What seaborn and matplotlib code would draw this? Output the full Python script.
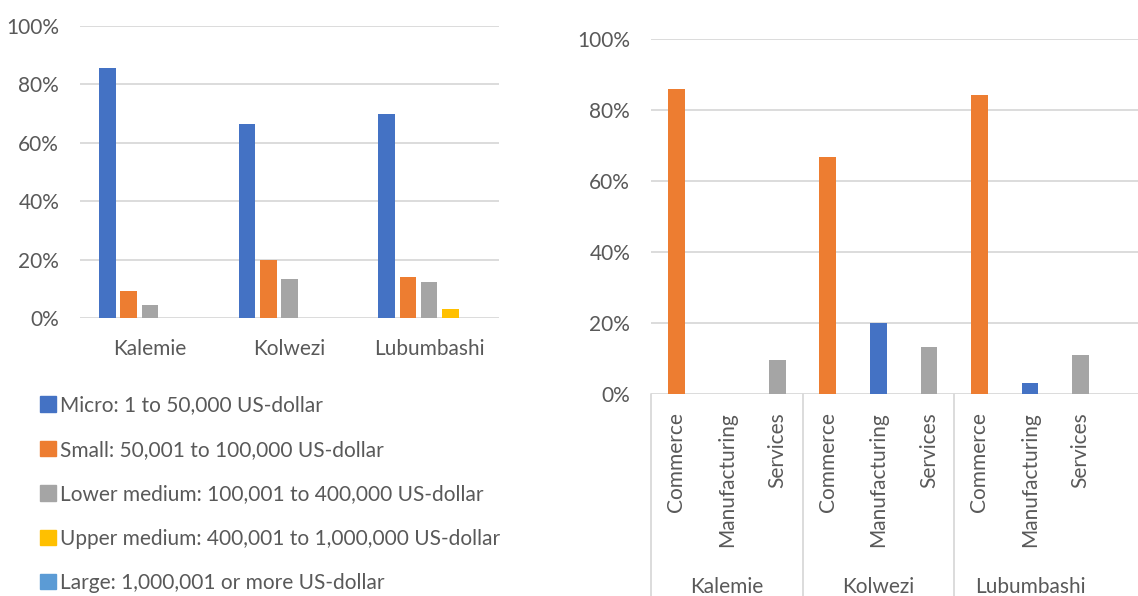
import matplotlib
matplotlib.use("Agg")
import matplotlib.pyplot as plt
import matplotlib.ticker as mticker
import matplotlib.patches as mpatches
import seaborn as sns
import pandas as pd

# ---------------- data ----------------
cities = ["Kalemie", "Kolwezi", "Lubumbashi"]
size_classes = [
    "Micro: 1 to 50,000 US-dollar",
    "Small: 50,001 to 100,000 US-dollar",
    "Lower medium: 100,001 to 400,000 US-dollar",
    "Upper medium: 400,001 to 1,000,000 US-dollar",
    "Large: 1,000,001 or more US-dollar",
]
micro = [0.856, 0.665, 0.697]
small = [0.093, 0.199, 0.141]
lower_medium = [0.045, 0.133, 0.125]
upper_medium = [0.0, 0.0, 0.032]
large = [0.0, 0.0, 0.0]

sectors = ["Commerce", "Manufacturing", "Services"]
commerce = [0.859, 0.667, 0.842]
manufacturing = [0.0, 0.199, 0.030]
services = [0.095, 0.132, 0.109]

size_colors = ["#4472C4", "#ED7D31", "#A5A5A5", "#FFC000", "#5B9BD5"]
sector_colors = {"Commerce": "#ED7D31", "Manufacturing": "#4472C4", "Services": "#A5A5A5"}

# ---------------- style ----------------
sns.set_style("white")
plt.rcParams["font.family"] = ["Lato", "DejaVu Sans"]
TXT = "#595959"
GRID = "#D9D9D9"
FS = 15

W, H = 1138, 596
fig = plt.figure(figsize=(W / 100, H / 100), dpi=100)

def box(x0, y0, x1, y1):
    return [x0 / W, 1 - y1 / H, (x1 - x0) / W, (y1 - y0) / H]

# ---------------- left chart ----------------
ax1 = fig.add_axes(box(80, 25.7, 499, 318.3))
rows = []
for cls, vals in zip(size_classes, [micro, small, lower_medium, upper_medium, large]):
    for c, v in zip(cities, vals):
        rows.append({"city": c, "value": v, "size": cls})
df1 = pd.DataFrame(rows)
sns.barplot(data=df1, x="city", y="value", hue="size", order=cities,
            hue_order=size_classes, palette=size_colors, width=0.76, gap=0.22,
            saturation=1, ax=ax1, legend=False, linewidth=0, zorder=3)
ax1.set_ylim(0, 1)
ax1.set_xlim(-0.5, 2.5)
ax1.yaxis.set_major_locator(mticker.MultipleLocator(0.2))
ax1.yaxis.set_major_formatter(mticker.PercentFormatter(1.0, decimals=0))
ax1.grid(axis="y", color=GRID, lw=1.3, zorder=0)
for s in ax1.spines.values():
    s.set_visible(False)
ax1.set_xlabel("")
ax1.set_ylabel("")
ax1.tick_params(axis="both", length=0, labelsize=FS, labelcolor=TXT)
ax1.tick_params(axis="y", pad=15)
ax1.tick_params(axis="x", pad=15)

handles = [mpatches.Patch(color=c, label=l) for c, l in zip(size_colors, size_classes)]
leg = ax1.legend(handles=handles, loc="upper left", frameon=False,
                 bbox_to_anchor=(-0.115, -0.235), bbox_transform=ax1.transAxes,
                 fontsize=FS, handlelength=0.75, handleheight=0.75,
                 handletextpad=0.2, labelspacing=1.17, borderaxespad=0)
for t in leg.get_texts():
    t.set_color(TXT)

# ---------------- right chart ----------------
ax2 = fig.add_axes(box(651, 39, 1138, 393.7))
rows = []
keys = []
for ci, c in enumerate(cities):
    for s, vals in zip(sectors, [commerce, manufacturing, services]):
        k = f"{c}|{s}"
        keys.append(k)
        rows.append({"key": k, "value": vals[ci], "sector": s})
df2 = pd.DataFrame(rows)
sns.barplot(data=df2, x="key", y="value", hue="sector", order=keys,
            hue_order=sectors, palette=sector_colors, dodge=False, width=0.33,
            saturation=1, ax=ax2, legend=False, linewidth=0, zorder=3)
ax2.set_ylim(0, 1)
ax2.set_xlim(-0.5, 9.14)
ax2.yaxis.set_major_locator(mticker.MultipleLocator(0.2))
ax2.yaxis.set_major_formatter(mticker.PercentFormatter(1.0, decimals=0))
ax2.grid(axis="y", color=GRID, lw=1.3, zorder=0)
for s in ax2.spines.values():
    s.set_visible(False)
ax2.set_xlabel("")
ax2.set_ylabel("")
ax2.set_xticks(range(len(keys)))
ax2.set_xticklabels([k.split("|")[1] for k in keys], rotation=90, va="top", ha="center")
ax2.tick_params(axis="both", length=0, labelsize=FS, labelcolor=TXT)
ax2.tick_params(axis="y", pad=15)
ax2.tick_params(axis="x", pad=13)

# multi-level category separators and group labels
trans = ax2.get_xaxis_transform()
ybot = -(H - 393.7) / (393.7 - 39)
for xv in [-0.5, 2.5, 5.5]:
    ax2.plot([xv, xv], [0, ybot - 0.02], color=GRID, lw=1.3, transform=trans, clip_on=False)
for gi, c in enumerate(cities):
    ax2.text(gi * 3 + 1, -(593 - 393.7) / (393.7 - 39), c, transform=trans,
             ha="center", va="baseline", fontsize=FS, color=TXT)

fig.savefig("out.png", dpi=100)
